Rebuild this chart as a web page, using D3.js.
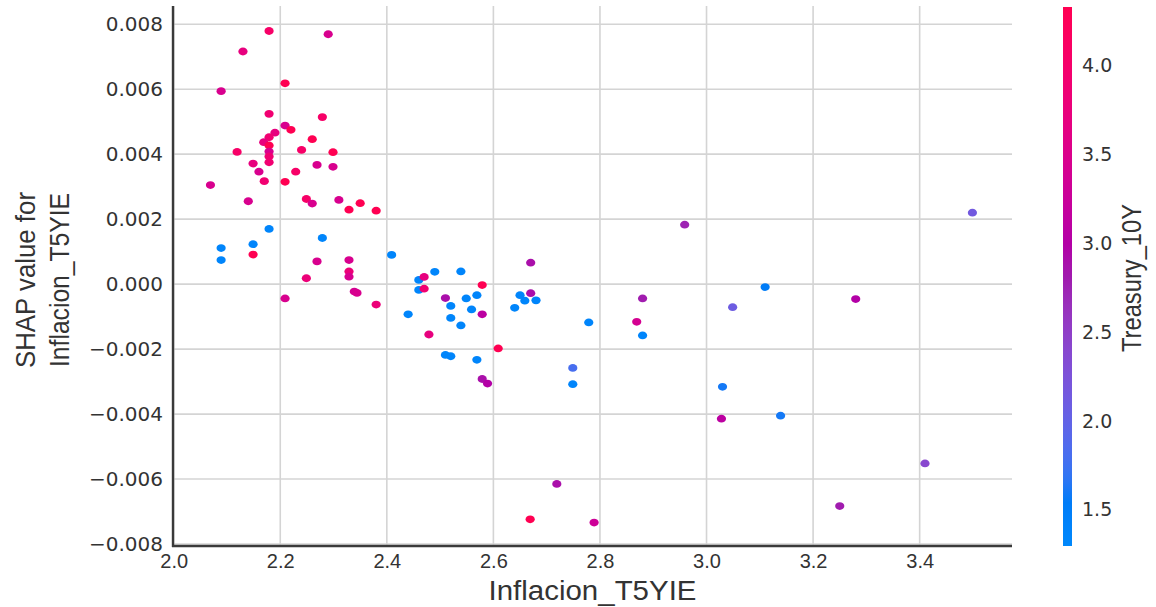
<!DOCTYPE html>
<html>
<head>
<meta charset="utf-8">
<script src="https://cdn.jsdelivr.net/npm/d3@7/dist/d3.min.js"></script>
<style>
  html, body { margin: 0; padding: 0; background: #ffffff; }
  svg { display: block; }
</style>
</head>
<body>
<svg id="chart" width="1156" height="607"></svg>
<script>
// Inflation expectation (x), its SHAP value (y) and the 10Y Treasury yield used for colour
const inflacion = [
  2.179, 2.290, 2.130, 2.209, 2.089, 2.179, 2.279, 2.209, 2.220, 2.190,
  2.179, 2.169, 2.179, 2.260, 2.119, 2.179, 2.240, 2.299, 2.179, 2.179,
  2.149, 2.269, 2.299, 2.160, 2.170, 2.229, 2.209, 2.069, 2.140, 2.249,
  2.260, 2.310, 2.329, 2.350, 2.380, 2.179, 2.089, 2.149, 2.149, 2.089,
  2.279, 2.269, 2.329, 2.329, 2.329, 2.249, 2.209, 2.339, 2.344, 2.380,
  2.409, 2.460, 2.470, 2.490, 2.539, 2.460, 2.470, 2.440, 2.510, 2.520,
  2.549, 2.569, 2.559, 2.579, 2.579, 2.520, 2.539, 2.479, 2.609, 2.510,
  2.520, 2.569, 2.579, 2.589, 2.670, 2.670, 2.650, 2.659, 2.680, 2.640,
  2.779, 2.749, 2.749, 2.719, 2.669, 2.789, 2.959, 2.880, 2.869, 2.880,
  3.110, 3.049, 3.030, 3.499, 3.280, 3.410, 3.250, 3.028, 3.139
];
const shapValues = [
  0.00779, 0.00769, 0.00716, 0.00618, 0.00594, 0.00524, 0.00514, 0.00488, 0.00475, 0.00466,
  0.00452, 0.00437, 0.00427, 0.00446, 0.00407, 0.00408, 0.00413, 0.00406, 0.00393, 0.00375,
  0.00371, 0.00367, 0.00361, 0.00346, 0.00317, 0.00346, 0.00315, 0.00305, 0.00255, 0.00262,
  0.00248, 0.00259, 0.00229, 0.00249, 0.00226, 0.00170, 0.00111, 0.00123, 0.00091, 0.00074,
  0.00142, 0.00070, 0.00074, 0.00039, 0.00023, 0.00018, -0.00044, -0.00023, -0.00027, -0.00063,
  0.00090, 0.00013, 0.00022, 0.00038, 0.00039, -0.00018, -0.00014, -0.00093, -0.00043, -0.00067,
  -0.00044, -0.00034, -0.00078, -0.00003, -0.00093, -0.00104, -0.00127, -0.00155, -0.00198, -0.00218,
  -0.00222, -0.00233, -0.00292, -0.00306, 0.00066, -0.00028, -0.00034, -0.00051, -0.00050, -0.00073,
  -0.00118, -0.00258, -0.00308, -0.00615, -0.00724, -0.00734, 0.00183, -0.00044, -0.00116, -0.00158,
  -0.00009, -0.00071, -0.00316, 0.00220, -0.00046, -0.00552, -0.00683, -0.00414, -0.00405
];
const treasury = [
  4.05, 3.45, 3.70, 4.35, 3.45, 3.90, 4.05, 3.45, 4.35, 3.70,
  3.90, 3.70, 4.35, 4.35, 4.05, 3.45, 4.05, 4.35, 3.90, 3.90,
  3.70, 3.45, 3.45, 3.45, 3.90, 4.05, 4.35, 3.45, 3.45, 4.05,
  3.45, 3.45, 4.35, 4.35, 4.35, 1.35, 1.35, 1.35, 4.35, 1.35,
  1.35, 3.45, 3.45, 3.80, 3.45, 3.80, 3.45, 3.40, 3.45, 3.80,
  1.35, 1.35, 3.70, 1.35, 1.35, 1.35, 3.90, 1.35, 2.90, 1.35,
  1.35, 1.35, 1.35, 4.35, 3.10, 1.35, 1.35, 3.70, 4.35, 1.35,
  1.35, 1.35, 2.90, 3.00, 2.90, 2.90, 1.35, 1.35, 1.35, 1.35,
  1.35, 1.80, 1.35, 2.90, 4.35, 3.30, 2.75, 2.80, 3.40, 1.35,
  1.55, 2.10, 1.60, 2.15, 3.00, 2.40, 2.80, 3.10, 1.60
];

const xTicks = [2.0, 2.2, 2.4, 2.6, 2.8, 3.0, 3.2, 3.4];
const yTicks = [0.008, 0.006, 0.004, 0.002, 0.000, -0.002, -0.004, -0.006, -0.008];
const colorTicks = [1.5, 2.0, 2.5, 3.0, 3.5, 4.0];

const xLabel = "Inflacion_T5YIE";
const yLabelLines = ["SHAP value for", "Inflacion_T5YIE"];
const colorLabel = "Treasury_10Y";
const colorDomain = [1.297, 4.327];

// Perceptual red-blue colour map (LCh path from blue to red through a darker purple)
function redBlue(t) {
  t = Math.max(0, Math.min(1, t));
  const hStart = 4.6588, hEnd = 0.35470565 + 2 * Math.PI;
  const h = (hStart + (hEnd - hStart) * t) * 180 / Math.PI;
  const c = 70 + 20 * t;
  const l = t < 0.5 ? 54 - 28 * t : 40 + 28 * (t - 0.5);
  const col = d3.rgb(d3.hcl(h, c, l));
  return d3.rgb(
    Math.max(0, Math.min(255, col.r)),
    Math.max(0, Math.min(255, col.g)),
    Math.max(0, Math.min(255, col.b))
  ).formatHex();
}

const svg = d3.select("#chart");
svg.append("rect").attr("width", 1156).attr("height", 607).attr("fill", "#ffffff");

const plot = { left: 173, right: 1012, top: 6, bottom: 546 };

const x = d3.scaleLinear().domain([1.9987, 3.5733]).range([plot.left, plot.right]);
const y = d3.scaleLinear().domain([-0.00806, 0.00856]).range([plot.bottom, plot.top]);
const color = d3.scaleLinear().domain(colorDomain).range([0, 1]).clamp(true);

// Grid
const grid = svg.append("g");
grid.selectAll("line.gx").data(xTicks).join("line")
  .attr("x1", d => x(d)).attr("x2", d => x(d))
  .attr("y1", plot.top).attr("y2", plot.bottom)
  .attr("stroke", "#d4d4d4").attr("stroke-width", 1.6);
grid.selectAll("line.gy").data(yTicks).join("line")
  .attr("x1", plot.left).attr("x2", plot.right)
  .attr("y1", d => y(d)).attr("y2", d => y(d))
  .attr("stroke", "#d4d4d4").attr("stroke-width", 1.6);

// Axes (tick text only, spines drawn separately)
const xAxis = svg.append("g").attr("transform", `translate(0,${plot.bottom})`)
  .call(d3.axisBottom(x).tickValues(xTicks).tickSize(0).tickPadding(8).tickFormat(d3.format(".1f")));
xAxis.select(".domain").remove();
xAxis.selectAll("text")
  .attr("font-family", "'Liberation Sans', Arial, sans-serif")
  .attr("font-size", 20).attr("fill", "#333333");

const minusFmt = d => (d < 0 ? "\u2212" : "") + d3.format(".3f")(Math.abs(d));
const yAxis = svg.append("g").attr("transform", `translate(${plot.left},0)`)
  .call(d3.axisLeft(y).tickValues(yTicks).tickSize(0).tickPadding(10).tickFormat(minusFmt));
yAxis.select(".domain").remove();
yAxis.selectAll("text")
  .attr("font-family", "'DejaVu Sans', sans-serif")
  .attr("font-size", 20).attr("fill", "#333333");

// Spines
svg.append("line").attr("x1", plot.left).attr("x2", plot.left)
  .attr("y1", plot.top).attr("y2", plot.bottom + 1)
  .attr("stroke", "#3a3a3a").attr("stroke-width", 2.4);
svg.append("line").attr("x1", plot.left - 1).attr("x2", plot.right)
  .attr("y1", plot.bottom).attr("y2", plot.bottom)
  .attr("stroke", "#3a3a3a").attr("stroke-width", 2.4);

// Points
const points = inflacion.map((v, i) => ({ x: v, y: shapValues[i], c: treasury[i] }));
svg.append("g").selectAll("ellipse").data(points).join("ellipse")
  .attr("cx", d => x(d.x)).attr("cy", d => y(d.y))
  .attr("rx", 4.6).attr("ry", 3.9)
  .attr("fill", d => redBlue(color(d.c)));

// Axis titles
svg.append("text")
  .attr("x", (plot.left + plot.right) / 2).attr("y", 600)
  .attr("text-anchor", "middle")
  .attr("font-family", "'Liberation Sans', Arial, sans-serif")
  .attr("font-size", 27).attr("fill", "#333333")
  .attr("textLength", 208).attr("lengthAdjust", "spacingAndGlyphs")
  .text(xLabel);

const yTitle = svg.append("text")
  .attr("transform", "translate(42,280) rotate(-90)")
  .attr("text-anchor", "middle")
  .attr("font-family", "'Liberation Sans', Arial, sans-serif")
  .attr("font-size", 27).attr("fill", "#333333");
yTitle.append("tspan").attr("x", 0).attr("y", -7)
  .attr("textLength", 176).attr("lengthAdjust", "spacingAndGlyphs").text(yLabelLines[0]);
yTitle.append("tspan").attr("x", 0).attr("y", 27)
  .attr("textLength", 174).attr("lengthAdjust", "spacingAndGlyphs").text(yLabelLines[1]);

// Colour bar
const cb = { x: 1063, width: 9, top: 7, bottom: 546 };
const cbScale = d3.scaleLinear().domain(colorDomain).range([cb.bottom, cb.top]);
const defs = svg.append("defs");
const grad = defs.append("linearGradient").attr("id", "cbGrad")
  .attr("x1", 0).attr("y1", 1).attr("x2", 0).attr("y2", 0);
d3.range(0, 1.0001, 0.02).forEach(t => {
  grad.append("stop").attr("offset", t).attr("stop-color", redBlue(t));
});
svg.append("rect").attr("x", cb.x).attr("y", cb.top)
  .attr("width", cb.width).attr("height", cb.bottom - cb.top)
  .attr("fill", "url(#cbGrad)");

const cbAxis = svg.append("g").attr("transform", `translate(${cb.x + cb.width},0)`)
  .call(d3.axisRight(cbScale).tickValues(colorTicks).tickSize(0).tickPadding(10).tickFormat(d3.format(".1f")));
cbAxis.select(".domain").remove();
cbAxis.selectAll("text")
  .attr("font-family", "'DejaVu Sans', sans-serif")
  .attr("font-size", 19).attr("fill", "#333333");

svg.append("text")
  .attr("transform", "translate(1141,278) rotate(-90)")
  .attr("text-anchor", "middle")
  .attr("font-family", "'Liberation Sans', Arial, sans-serif")
  .attr("font-size", 27).attr("fill", "#333333")
  .attr("textLength", 148).attr("lengthAdjust", "spacingAndGlyphs")
  .text(colorLabel);
</script>
</body>
</html>
